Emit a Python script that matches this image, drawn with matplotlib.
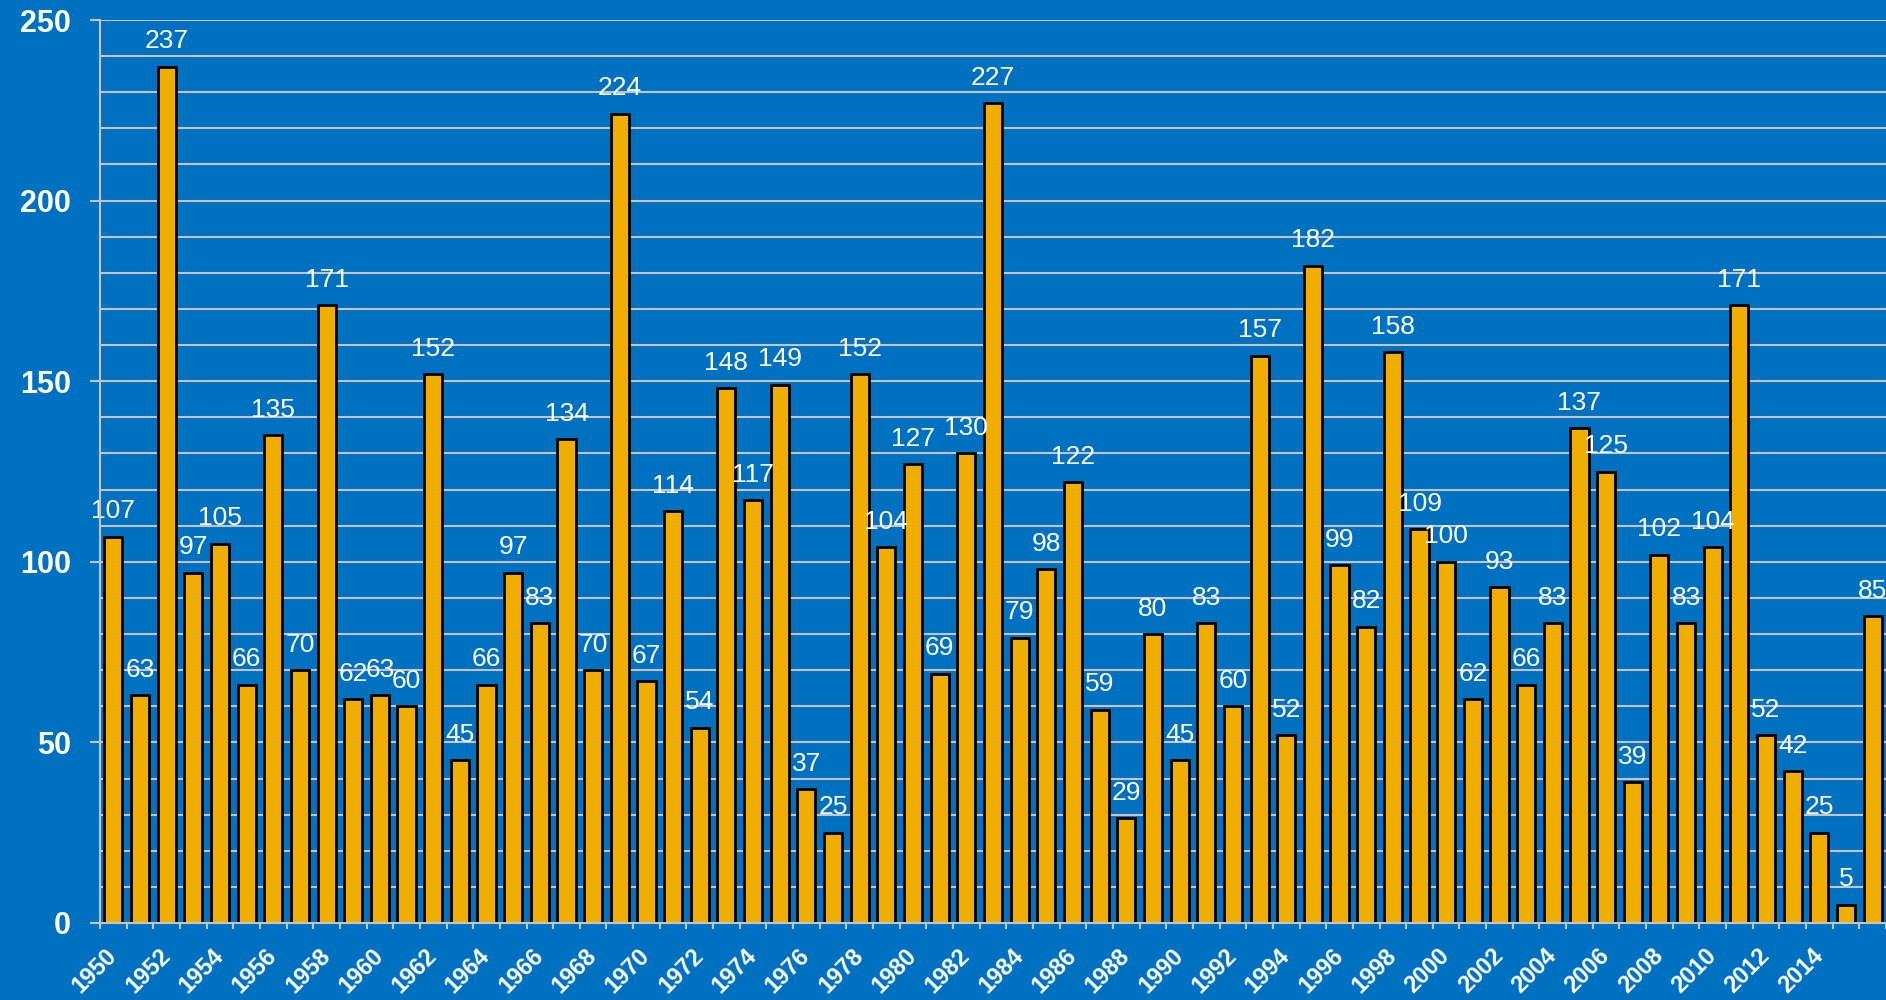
import matplotlib
matplotlib.use("Agg")
import matplotlib.pyplot as plt
import numpy as np

years = list(range(1950, 2017))
counts = [107, 63, 237, 97, 105, 66, 135, 70, 171, 62,
          63, 60, 152, 45, 66, 97, 83, 134, 70, 224,
          67, 114, 54, 148, 117, 149, 37, 25, 152, 104,
          127, 69, 130, 227, 79, 98, 122, 59, 29, 80,
          45, 83, 60, 157, 52, 182, 99, 82, 158, 109,
          100, 62, 93, 66, 83, 137, 125, 39, 102, 83,
          104, 171, 52, 42, 25, 5, 85]
tick_years = list(range(1950, 2015, 2))

blue = '#0070C0'
bar_color = '#F0AE00'
grid_color = '#C4C4C4'

plt.rcParams['font.family'] = ['Liberation Sans', 'DejaVu Sans']

fig = plt.figure(figsize=(18.86, 10), dpi=100, facecolor=blue)
ax = fig.add_axes([100/1886, 77/1000, 1786/1886, 903/1000])
ax.set_facecolor(blue)

x = np.arange(len(years))
ax.bar(x, counts, width=0.68, color=bar_color, edgecolor='black', linewidth=2.0, zorder=3)

# value labels above each bar
for xi, v in zip(x, counts):
    ax.annotate(str(v), (xi, v), xytext=(0, 13.3), textcoords='offset points',
                ha='center', va='baseline', color='white', fontsize=19, zorder=4)

ax.set_xlim(-0.5, len(years) - 0.5)
ax.set_ylim(0, 250)

# y axis
ax.set_yticks(range(0, 251, 50))
ax.set_yticks(range(0, 251, 10), minor=True)
ax.yaxis.grid(True, which='both', color=grid_color, linewidth=1.5, zorder=0)
ax.tick_params(axis='y', which='major', length=7, width=1.5, color=grid_color,
               labelsize=22, labelcolor='white', pad=14)
ax.tick_params(axis='y', which='minor', length=0)
for lbl in ax.get_yticklabels():
    lbl.set_fontweight('bold')

# x axis: labels every other year, ticks at category boundaries
ax.set_xticks([years.index(y) for y in tick_years])
ax.set_xticklabels([str(y) for y in tick_years], rotation=45, ha='right',
                   va='center', rotation_mode='anchor', fontweight='bold')
ax.set_xticks(np.arange(-0.5, len(years), 1), minor=True)
ax.tick_params(axis='x', which='major', length=0, labelsize=17, labelcolor='white', pad=21)
ax.tick_params(axis='x', which='minor', length=4, width=1.5, color=grid_color)

for side in ['top', 'right']:
    ax.spines[side].set_visible(False)
for side in ['left', 'bottom']:
    ax.spines[side].set_color(grid_color)
    ax.spines[side].set_linewidth(1.5)
    ax.spines[side].set_zorder(5)

fig.savefig('out.png', dpi=100, facecolor=blue)
